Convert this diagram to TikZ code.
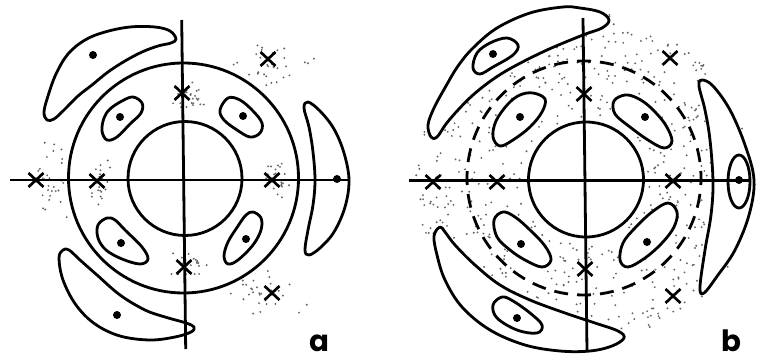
\documentclass[tikz,border=0pt]{standalone}
\usepackage{fontspec}
\setmainfont{Poppins}
\begin{document}
\begin{tikzpicture}[x=0.75pt,y=-0.75pt,
  curve/.style={line width=2.1pt, line join=round},
  blob/.style={curve, fill=white},
  axisline/.style={line width=2.1pt},
  crossline/.style={line width=2pt},
  speck/.style={fill=black!60},
  lab/.style={font=\fontsize{22}{22}\selectfont\bfseries, inner sep=0pt, anchor=base},
  crossmark/.pic={\draw[crossline] (-7.5,-7) -- (7.5,7) (-7.5,7) -- (7.5,-7);},
  bigdot/.pic={\fill (0,0) circle (4);}]
\useasboundingbox (0,0) rectangle (757,363);

% ---------------- stippling, panel a ----------------
\pgfmathsetseed{11}
\foreach \cx/\cy/\sx/\sy/\n in {188/95/17/15/25, 100/182/12/22/22, 277/178/11/22/22,
  192/265/20/13/22, 52/182/14/45/28, 268/66/42/20/32, 262/295/42/25/30}{
  \foreach \i in {1,...,\n}{
    \pgfmathsetmacro\px{\cx+\sx*(rand+rand)*0.6}
    \pgfmathsetmacro\py{\cy+\sy*(rand+rand)*0.6}
    \fill[speck] (\px,\py) circle (0.8pt);
  }
}
% ---------------- stippling, panel b ----------------
\pgfmathsetseed{5}
\foreach \i in {1,...,650}{
  \pgfmathsetmacro\ang{360*rnd}
  \pgfmathsetmacro\rad{100*sqrt(0.3844+rnd*(2.8224-0.3844))}
  \pgfmathsetmacro\px{584+\rad*cos(\ang)}
  \pgfmathsetmacro\py{180+\rad*sin(\ang)}
  \fill[speck] (\px,\py) circle (0.8pt);
}

% ================= panel a =================
\draw[curve] (183.5,178) circle (115);
\draw[blob] (185,178.5) circle (57);
% upper-left banana
\draw[blob] plot[smooth cycle, tension=0.6] coordinates {(176,39) (170,31) (155,27) (130,27) (105,32) (85,40) (68,54) (56,74) (48,96) (44,112) (47,120) (54,119) (64,110) (78,96) (92,85) (108,72) (125,61) (142,52) (158,46) (171,43)};
% lower-left banana
\draw[blob] plot[smooth cycle, tension=0.6] coordinates {(63,250) (59,258) (63,280) (76,305) (95,324) (120,336) (150,340) (175,337) (191,332) (194,327) (186,323) (165,317) (145,310) (120,295) (97,275) (80,260) (69,250)};
% right crescent
\draw[blob] plot[smooth cycle, tension=0.6] coordinates {(308,102) (320,111) (334,129) (344,153) (349,180) (345,207) (334,232) (320,248) (309,255) (305,250) (308,230) (313,205) (315,180) (313,152) (309,127) (304,108)};
% inner blobs
\draw[blob] plot[smooth cycle, tension=0.6] coordinates {(110,109) (122,101) (133,97) (142,103) (141,113) (130,124) (117,137) (107,140) (102,131) (104,118)};
\draw[blob] plot[smooth cycle, tension=0.6] coordinates {(220,110) (228,98) (240,100) (253,111) (262,123) (260,133) (250,137) (237,130) (224,120)};
\draw[blob] plot[smooth cycle, tension=0.6] coordinates {(107,218) (98,225) (98,238) (106,250) (122,259) (140,264) (148,259) (142,247) (125,230) (115,220)};
\draw[blob] plot[smooth cycle, tension=0.6] coordinates {(253,212) (261,218) (261,230) (253,245) (238,260) (228,264) (224,256) (228,242) (238,226) (246,215)};
% axes
\draw[axisline] (10,180) -- (350,180);
\draw[axisline] (181.7,20) -- (185.7,349);
% dots
\foreach \p in {(93,55),(120,117),(243,116),(121,243),(246,239),(117,315),(337,179)}
  \pic at \p {bigdot};
% crosses
\foreach \p in {(36,180),(97,181),(272,180),(182,93),(184,267),(268,59),(272,293)}
  \pic at \p {crossmark};
\node[lab] (la) at (319,352) {a};

% ================= panel b =================
\draw[curve, dash pattern=on 10.5pt off 6.73pt, dash phase=5.25pt] (584,178) circle (117);
\draw[blob] (586,179.5) circle (57.5);
% upper-left big banana
\draw[blob] plot[smooth cycle, tension=0.6] coordinates {(609,20) (600,12) (580,8) (563,7) (530,13) (497,28) (473,48) (458,66) (446,86) (434,108) (428,125) (431,137) (437,137) (446,124) (458,110) (473,95) (492,80) (513,67) (547,50) (583,35) (602,28)};
\draw[blob] plot[smooth cycle, tension=0.6] coordinates {(507,38) (518,45) (513,55) (493,67) (480,74) (473,68) (477,53) (490,43)};
% lower-left big banana
\draw[blob] plot[smooth cycle, tension=0.6] coordinates {(440,227) (434,236) (437,255) (445,280) (462,307) (490,330) (525,345) (560,351) (590,351) (612,346) (624,338) (618,331) (595,323) (565,313) (530,300) (500,285) (475,265) (455,245) (445,232)};
\draw[blob] plot[smooth cycle, tension=0.6] coordinates {(502,297) (493,305) (497,318) (517,330) (537,333) (542,325) (530,313) (513,301)};
% right crescent
\draw[blob] plot[smooth cycle, tension=0.6] coordinates {(702,80) (713,86) (730,110) (745,145) (754,180) (749,215) (735,250) (718,275) (704,293) (700,287) (705,250) (711,215) (713,182) (710,140) (705,110) (699,86)};
\draw[blob] (739,181.5) ellipse (11 and 26.5);
% inner blobs
\draw[blob] plot[smooth cycle, tension=0.6] coordinates {(533,93) (545,99) (542,112) (530,127) (513,140) (500,146) (493,137) (496,121) (508,104) (520,95)};
\draw[blob] plot[smooth cycle, tension=0.6] coordinates {(625,95) (614,101) (615,114) (630,127) (648,140) (664,148) (672,141) (665,124) (650,107) (637,98)};
\draw[blob] plot[smooth cycle, tension=0.6] coordinates {(503,212) (494,220) (497,237) (510,250) (525,260) (542,267) (551,260) (545,246) (530,230) (515,217)};
\draw[blob] plot[smooth cycle, tension=0.6] coordinates {(668,203) (677,212) (674,227) (662,243) (645,258) (628,267) (620,260) (623,243) (635,228) (652,212)};
% axes
\draw[axisline] (409,180.7) -- (749,180.7);
\draw[axisline] (583,18) -- (587,351);
% dots
\foreach \p in {(493,54),(520,117),(645,117),(521,244),(647,242),(517,318),(739,180)}
  \pic at \p {bigdot};
% crosses
\foreach \p in {(433,182),(497,182),(673,181),(584,94),(585,269),(670,58),(673,296)}
  \pic at \p {crossmark};
\node[lab] (lb) at (731,352) {b};
\end{tikzpicture}
\end{document}
